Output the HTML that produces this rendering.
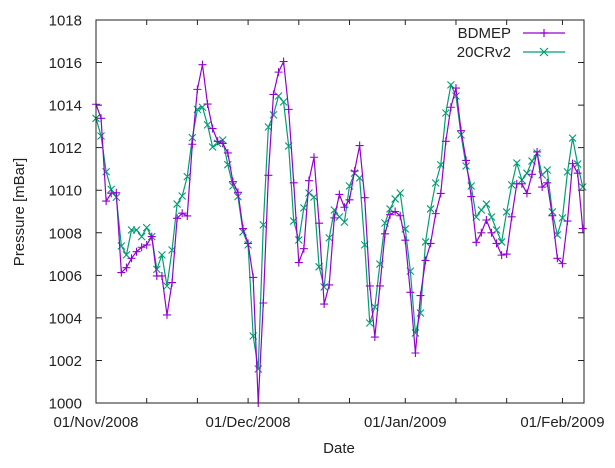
<!DOCTYPE html>
<html><head><meta charset="utf-8"><style>
html,body{margin:0;padding:0;background:#fff;}
svg{display:block;font-family:"Liberation Sans",sans-serif;}
</style></head><body>
<svg id="chart" width="615" height="468" xmlns="http://www.w3.org/2000/svg">
  <rect x="0" y="0" width="615" height="468" fill="#fff"/>
  <g id="grid-ticks"></g>
  <g id="series"></g>
  <rect x="96" y="20" width="488" height="383" fill="none" stroke="#222" stroke-width="1"/>
  <g id="labels"></g>
  <text x="0" y="0" transform="translate(24,212) rotate(-90)" text-anchor="middle" font-size="15" fill="#222">Pressure [mBar]</text>
  <text x="339" y="453" text-anchor="middle" font-size="15" fill="#222">Date</text>
  <g>
    <text x="511" y="38" text-anchor="end" font-size="15" fill="#222">BDMEP</text>
    <line x1="523" y1="33" x2="565" y2="33" stroke="#9400d3" stroke-width="1.2"/>
    <path d="M540,33h8M544,29v8" stroke="#9400d3" stroke-width="1.2"/>
    <text x="511" y="57" text-anchor="end" font-size="15" fill="#222">20CRv2</text>
    <line x1="523" y1="52" x2="565" y2="52" stroke="#009e73" stroke-width="1.2"/>
    <path d="M540,48l8,8M548,48l-8,8" stroke="#009e73" stroke-width="1.2"/>
  </g>
</svg>
<script>
const yTicks = [1000,1002,1004,1006,1008,1010,1012,1014,1016,1018];
const xTickDays = [0,10,20,30,40,50,61,71,81,92];
const xLabelDays = [0,30,61,92];
const xLabels = ["01/Nov/2008","01/Dec/2008","01/Jan/2009","01/Feb/2009"];
const bdmep = [1014.04,1013.38,1009.49,1009.86,1009.88,1006.13,1006.36,1006.80,1007.11,1007.32,1007.43,1007.82,1005.97,1005.97,1004.14,1005.66,1008.68,1008.92,1008.79,1012.16,1014.74,
1015.9,1014.05,1012.9,1012.3,1012.2,1011.75,1010.4,1009.9,1008.2,1007.5,1005.9,1000.0,1004.7,1010.7,1014.5,1015.55,1016.05,1013.8,1010.35,1006.6,1007.25,1010.45,1011.55,1008.45,1004.65,1005.55,1008.7,1009.8,1009.2,1009.55,1010.9,1012.1,1009.65,1005.5,1003.1,1005.5,1007.95,1008.85,1009.0,1008.8,1007.65,1005.2,1002.35,1005.05,1006.7,1007.5,1008.9,1009.85,1012.3,1013.9,1014.8,1012.8,1011.4,1009.7,1007.55,1008.0,1008.6,1008.0,1007.5,1006.95,1007.0,1008.75,1010.3,1010.3,1009.85,1010.75,1011.8,1010.15,1010.35,1008.8,1006.8,1006.55,1008.55,1011.25,1010.8,1008.2];
const cr20 = [1013.38,1012.55,1010.87,1010.04,1009.67,1007.38,1006.96,1008.13,1008.13,1007.82,1008.24,1007.82,1006.28,1006.96,1005.5,1007.19,1009.35,1009.73,1010.64,1012.47,1013.8,
1013.9,1013.07,1012.03,1012.2,1012.36,1011.2,1010.2,1009.7,1008.04,1007.43,1003.15,1001.6,1008.37,1012.97,1013.54,1014.43,1014.15,1012.08,1008.55,1007.66,1009.17,1009.87,1009.68,1006.4,1005.45,1007.76,1009.07,1008.74,1008.5,1010.2,1010.8,1010.58,1007.43,1003.76,1004.51,1006.53,1008.46,1009.12,1009.59,1009.87,1008.18,1006.2,1003.29,1004.23,1007.57,1009.12,1010.34,1011.19,1013.63,1014.95,1014.43,1012.6,1011.14,1010.2,1008.74,1009.07,1009.35,1008.74,1008.13,1007.57,1008.98,1010.25,1011.28,1010.48,1010.8,1011.37,1011.75,1010.72,1010.95,1008.98,1007.9,1008.7,1010.86,1012.45,1011.23,1010.15];

const NS = "http://www.w3.org/2000/svg";
const L = 96, R = 584, T = 20, B = 403;
const xScale = d => L + d * 5.07;
const yScale = v => B - (v - 1000) * (B - T) / 18;

const tg = document.getElementById('grid-ticks');
const lg = document.getElementById('labels');
const sg = document.getElementById('series');

yTicks.forEach(v => {
  const y = yScale(v);
  const p = document.createElementNS(NS, 'path');
  p.setAttribute('d', `M${L},${y}h6M${R},${y}h-6`);
  p.setAttribute('stroke', '#222');
  
  
  tg.appendChild(p);
  const t = document.createElementNS(NS, 'text');
  t.setAttribute('x', 82); t.setAttribute('y', y + 5.5);
  t.setAttribute('text-anchor', 'end'); t.setAttribute('font-size', '15'); t.setAttribute('fill', '#222');
  t.textContent = v;
  
  
  lg.appendChild(t);
});
xTickDays.forEach(d => {
  const x = xScale(d);
  const p = document.createElementNS(NS, 'path');
  p.setAttribute('d', `M${x},${B}v-5M${x},${T}v5`);
  p.setAttribute('stroke', '#222');
  
  
  tg.appendChild(p);
});
xLabelDays.forEach((d, i) => {
  const t = document.createElementNS(NS, 'text');
  t.setAttribute('x', xScale(d)); t.setAttribute('y', 427);
  t.setAttribute('text-anchor', 'middle'); t.setAttribute('font-size', '15'); t.setAttribute('fill', '#222');
  t.textContent = xLabels[i];
  
  
  lg.appendChild(t);
});

function drawSeries(vals, color, marker, name) {
  const pts = vals.map((v, i) => [xScale(i), yScale(v)]);
  const line = document.createElementNS(NS, 'polyline');
  line.setAttribute('points', pts.map(p => p.join(',')).join(' '));
  line.setAttribute('fill', 'none'); line.setAttribute('stroke', color); line.setAttribute('stroke-width', '1.2');
  
  
  sg.appendChild(line);
  let d = '';
  pts.forEach(([x, y]) => {
    if (marker === 'plus') d += `M${x-4},${y}h8M${x},${y-4}v8`;
    else d += `M${x-3.5},${y-3.5}l7,7M${x+3.5},${y-3.5}l-7,7`;
  });
  const m = document.createElementNS(NS, 'path');
  m.setAttribute('d', d); m.setAttribute('stroke', color); m.setAttribute('stroke-width', '1.1'); m.setAttribute('fill', 'none');
  
  
  sg.appendChild(m);
}
drawSeries(cr20, '#009e73', 'cross', '20crv2');
drawSeries(bdmep, '#9400d3', 'plus', 'bdmep');
</script>
</body></html>
